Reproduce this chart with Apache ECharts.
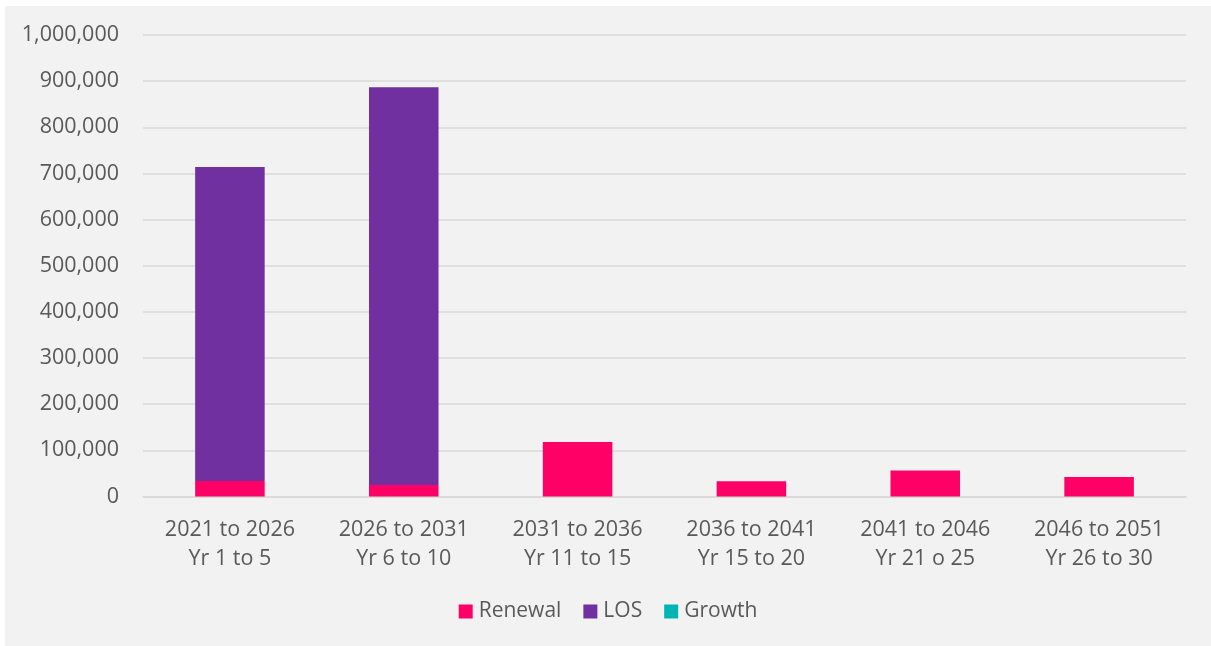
<!DOCTYPE html>
<html>
<head>
<meta charset="utf-8">
<script src="https://cdn.jsdelivr.net/npm/echarts@6/dist/echarts.min.js"></script>
<style>
  html, body { margin: 0; padding: 0; background: #fff; }
  #chart { position: absolute; left: 5px; top: 6px; width: 1206px; height: 640px; background: #f2f2f2; }
</style>
</head>
<body>
<div id="chart"></div>
<script>
// 数据
const categories = [
  '2021 to 2026\nYr 1 to 5',
  '2026 to 2031\nYr 6 to 10',
  '2031 to 2036\nYr 11 to 15',
  '2036 to 2041\nYr 15 to 20',
  '2041 to 2046\nYr 21 o 25',
  '2046 to 2051\nYr 26 to 30'
];
const renewal = [33500, 25000, 118000, 33000, 56500, 42000];
const los = [680500, 862000, 0, 0, 0, 0];
const growth = [0, 0, 0, 0, 0, 0];

const labelColor = '#595959';
const font = 'Open Sans';

let myChart = echarts.init(document.getElementById('chart'));
let option = {
  backgroundColor: '#f2f2f2',
  animation: false,
  textStyle: { fontFamily: font },
  grid: { left: 138, right: 25, top: 29, bottom: 149.5 },
  legend: {
    bottom: 19,
    left: 'center',
    itemWidth: 14,
    itemHeight: 14,
    itemGap: 22,
    icon: 'rect',
    textStyle: { color: labelColor, fontSize: 21, fontFamily: font, padding: [0, 0, 0, 1] },
    data: ['Renewal', 'LOS', 'Growth']
  },
  xAxis: {
    type: 'category',
    data: categories,
    axisTick: { show: false },
    axisLine: { lineStyle: { color: '#d9d9d9', width: 1.5 } },
    axisLabel: { color: labelColor, fontSize: 21.5, lineHeight: 29, margin: 19, fontFamily: font }
  },
  yAxis: {
    type: 'value',
    min: 0,
    max: 1000000,
    interval: 100000,
    axisLine: { show: false },
    axisTick: { show: false },
    splitLine: { lineStyle: { color: '#d9d9d9', width: 1.5 } },
    axisLabel: {
      color: labelColor, fontSize: 21.5, margin: 24, fontFamily: font,
      formatter: v => v.toLocaleString('en-US')
    }
  },
  series: [
    { name: 'Renewal', type: 'bar', stack: 'total', barWidth: '40%', data: renewal, itemStyle: { color: '#ff0066' } },
    { name: 'LOS', type: 'bar', stack: 'total', data: los, itemStyle: { color: '#7030a0' } },
    { name: 'Growth', type: 'bar', stack: 'total', data: growth, itemStyle: { color: '#00b4b4' } }
  ]
};
myChart.setOption(option);
</script>
</body>
</html>
